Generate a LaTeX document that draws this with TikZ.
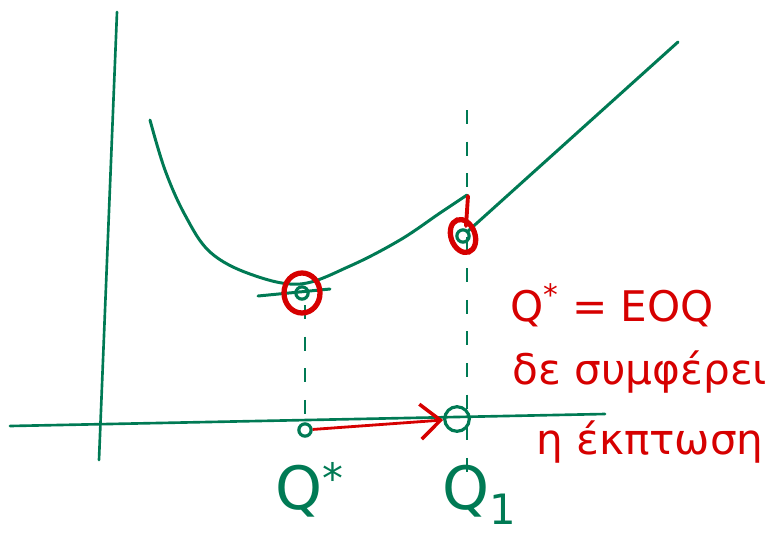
\documentclass[tikz,border=0pt]{standalone}
\usepackage{fontspec}
\setmainfont{DejaVu Sans}
\usetikzlibrary{positioning,arrows.meta}
\definecolor{penGreen}{RGB}{0,122,84}
\definecolor{penRed}{RGB}{214,0,0}

\begin{document}
\begin{tikzpicture}[x=0.02cm, y=-0.02cm,
    axisline/.style={penGreen, line width=1.5pt, line cap=round},
    costline/.style={penGreen, line width=1.7pt, line cap=round},
    guide/.style={penGreen, line width=0.8pt, dash pattern=on 8pt off 10pt},
    markdot/.style={circle, draw=penGreen, line width=1.8pt, inner sep=0pt, minimum size=7pt},
    ring/.style={draw=penRed, line width=3pt},
    redtext/.style={text=penRed, font=\fontsize{24}{30}\selectfont, inner sep=0pt},
    qlabel/.style={text=penGreen, font=\fontsize{34}{40}\selectfont, inner sep=0pt}]
    \useasboundingbox (0,0) rectangle (779,539);

    % axes
    \draw[axisline] (117,12) -- (99,460);
    \draw[axisline] (10,426) -- (605,414);

    % cost curves
    \draw[costline] plot[smooth, tension=0.6] coordinates {(150,120) (165,170) (185,215) (210,252) (250,274) (300,284) (350,266) (400,240) (440,213) (467,195)};
    \draw[costline] (467,232) -- (678,42);
    \draw[costline] (258,296) -- (330,289);

    % guides
    \draw[guide] (305,305) -- (305,420);
    \draw[guide] (467,110) -- (467,480);

    % points
    \node[markdot] (minpt) at (302,293) {};
    \node[markdot] (jumppt) at (463,236) {};
    \node[markdot] (qstar) at (305,430) {};
    \node[markdot, minimum width=9pt, minimum height=14pt] (qone) at (457,419) {};

    % red marks
    \draw[ring] (minpt) ellipse (18 and 20);
    \draw[ring, rotate around={20:(jumppt)}] (jumppt) ellipse (12 and 17);
    \draw[penRed, line width=2.2pt, line cap=round] (468,196) -- (466,226);
    \draw[penRed, line width=1.6pt, -{Straight Barb[length=4mm, width=7mm, line width=2pt]}] (qstar) -- (qone);

    % labels
    \node[qlabel] (lqstar) at (310,490) {Q\textsuperscript{*}};
    \node[qlabel] (lqone) at (480,495) {Q\textsubscript{1}};
    \node[redtext] (eoq) at (612,305) {Q\textsuperscript{*} = EOQ};
    \node[redtext] (notworth) at (640,372) {δε συμφέρει};
    \node[redtext] (discount) at (650,442) {η έκπτωση};
\end{tikzpicture}
\end{document}
